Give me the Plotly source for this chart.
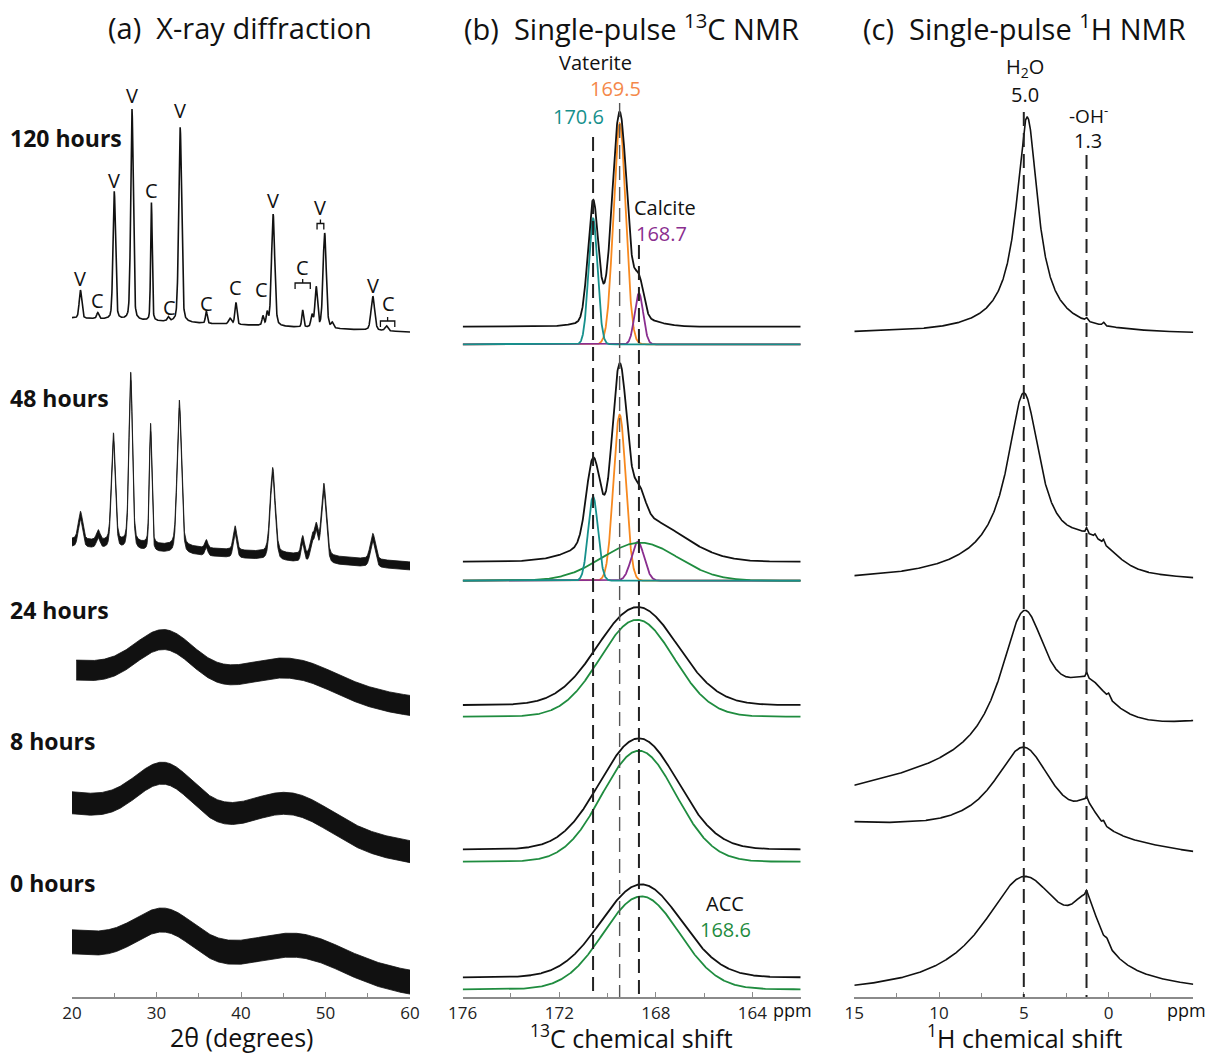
import numpy as np
import plotly.graph_objects as go

# ======================= DATA =======================
times = ["120 hours", "48 hours", "24 hours", "8 hours", "0 hours"]

# ---- (a) X-ray diffraction: reflections (2θ deg, intensity, FWHM deg) ----
xrd120_pos = [21.0, 23.05, 25.0, 27.1, 29.4, 31.4, 32.8, 35.9, 38.7, 39.4, 42.6, 43.1, 43.8,
              47.3, 48.4, 48.9, 49.9, 50.8, 55.6, 57.2]
xrd120_int = [28, 6, 128, 211, 118, 4, 195, 12, 6, 22, 9, 12, 112, 17, 12, 40, 95, 5, 34, 5]
xrd120_fwhm = [0.35, 0.3, 0.35, 0.35, 0.22, 0.3, 0.4, 0.25, 0.4, 0.3, 0.25, 0.25, 0.45,
               0.25, 0.3, 0.35, 0.45, 0.3, 0.5, 0.4]
xrd120_drift = [0, 14]

xrd48_pos = [21.0, 23.1, 24.9, 26.95, 29.3, 32.7, 35.9, 39.3, 43.75, 47.3, 48.4, 48.9, 49.8, 55.6]
xrd48_int = [28, 10, 108, 170, 120, 146, 8, 24, 85, 18, 18, 28, 72, 26]
xrd48_fwhm = [0.6, 0.5, 0.55, 0.5, 0.35, 0.6, 0.4, 0.5, 0.7, 0.45, 0.5, 0.5, 0.7, 0.7]
xrd48_drift = [0, 23]

# amorphous halos (centre, intensity, FWHM)
xrd24_pos, xrd24_int, xrd24_fwhm, xrd24_drift = [31.0, 46.0], [40, 25], [8, 12], [0, 36]
xrd8_pos, xrd8_int, xrd8_fwhm, xrd8_drift = [31.0, 46.0], [43, 31], [8, 11], [0, 49]
xrd0_pos, xrd0_int, xrd0_fwhm, xrd0_drift = [31.0, 47.0], [33, 24], [8, 12], [0, 41]

# phase labels (2θ, letter)
xrd_tags = [(21.0, "V"), (23.05, "C"), (25.0, "V"), (27.1, "V"), (29.4, "C"), (31.5, "C"),
            (32.8, "V"), (35.9, "C"), (39.4, "C"), (42.4, "C"), (43.8, "V"), (47.3, "C"),
            (49.4, "V"), (55.6, "V"), (57.4, "C")]
xrd_brackets = [(46.4, 48.2), (49.0, 49.8), (56.5, 58.2)]

# ---- (b) 13C NMR: fitted components (ppm, intensity, FWHM ppm) ----
c120_fit_pos = [170.6, 169.5, 168.7]
c120_fit_int = [126, 221, 51]
c120_fit_fwhm = [0.44, 0.6, 0.42]
c120_exp_pos = [170.6, 169.5, 168.7, 169.5]
c120_exp_int = [118, 200, 36, 15]
c120_exp_fwhm = [0.5, 0.7, 0.45, 2.5]

c48_fit_pos = [170.6, 169.5, 168.75, 168.65]
c48_fit_int = [84, 166, 39, 38]
c48_fit_fwhm = [0.48, 0.6, 0.62, 3.7]
c48_exp_pos = [170.6, 169.5, 168.7, 168.7]
c48_exp_int = [80, 158, 28, 45]
c48_exp_fwhm = [0.65, 0.7, 0.6, 4.0]

c24_fit = (168.78, 97, 3.6)
c24_exp = (168.75, 98, 3.9)
c8_fit = (168.7, 111, 3.6)
c8_exp = (168.7, 111, 3.8)
c0_fit = (168.6, 93, 3.7)
c0_exp = (168.6, 93, 3.9)

c13_lines = [170.6, 169.5, 168.7]

# ---- (c) 1H NMR components (ppm, intensity, FWHM, lineshape) ----
h120 = dict(pos=[4.8, 5.0, 1.3, 0.3], inten=[205, 12, 3, 3], fwhm=[1.5, 6, 0.15, 0.15],
            shape=["L", "L", "G", "G"], drift=[0, 1])
h48 = dict(pos=[5.0, 5.0, 1.0, 1.3, 0.8, 0.3], inten=[165, 25, 22, 5, 3, 4],
           fwhm=[2.3, 9, 3, 0.12, 0.12, 0.12], shape=["L", "L", "G", "G", "G", "G"], drift=[0, 2])
h24 = dict(pos=[5.0, 1.2, 1.3, 0.0], inten=[140, 46, 5, 4], fwhm=[3.4, 3.6, 0.12, 0.15],
           shape=["L", "L", "G", "G"], drift=[0, -62])
h8 = dict(pos=[5.0, 1.3, 1.3, 0.3], inten=[93, 22, 4, 3], fwhm=[4.4, 1.5, 0.12, 0.12],
          shape=["L", "L", "G", "G"], drift=[0, 30])
h0 = dict(pos=[5.0, 1.3, 1.3, 0.1], inten=[115, 53, 6, 4], fwhm=[6.0, 2.0, 0.15, 0.2],
          shape=["L", "L", "G", "G"], drift=[0, 0])
h1_lines = [5.0, 1.3]

# ======================= LAYOUT CONSTANTS =======================
W, H = 1212, 1054
AXIS_PX = 997
FONT = "Open Sans"
BLACK = "#111111"
TEAL = "#16908c"
ORANGE = "#f7891f"
ORANGE_T = "#f4884a"
PURPLE = "#8a2e8f"
GREEN = "#1f8c3f"

xrd_offsets = [318, 543, 670, 803, 942]      # left baseline (px from top)
xrd_halfband = [0, 4, 10, 11, 12]
c13_fit_base = [344.3, 580.7, 716.7, 861.7, 989.3]
c13_exp_base = [326.7, 561.7, 705, 849.3, 977.3]
h1_base = [333.5, 582, 790, 826, 995]
xrd_tag_px = [278, 300, 180, 95, 190, 307, 110, 303, 287, 289, 200, 267, 207, 285, 303]
xrd_bracket_px = [283, 223.5, 321]


def gauss(x, p, h, w):
    s = w / 2.3548
    return h * np.exp(-0.5 * ((x - p) / s) ** 2)


def lor(x, p, h, w):
    return h / (1 + ((x - p) / (w / 2)) ** 2)


def pv(x, p, h, w, eta=0.3):
    return eta * lor(x, p, h, w) + (1 - eta) * gauss(x, p, h, w)


fig = go.Figure()

# ---------------- (a) XRD ----------------
tt = np.linspace(20, 60, 2001)
xrd_sets = [
    (xrd120_pos, xrd120_int, xrd120_fwhm, xrd120_drift, "pv"),
    (xrd48_pos, xrd48_int, xrd48_fwhm, xrd48_drift, "pv"),
    (xrd24_pos, xrd24_int, xrd24_fwhm, xrd24_drift, "g"),
    (xrd8_pos, xrd8_int, xrd8_fwhm, xrd8_drift, "g"),
    (xrd0_pos, xrd0_int, xrd0_fwhm, xrd0_drift, "g"),
]
for k, (pos, inten, fw, drift, kind) in enumerate(xrd_sets):
    xs = tt if k != 2 else tt[tt >= 20.5]
    sig = np.zeros_like(xs)
    for p, h, w in zip(pos, inten, fw):
        sig += pv(xs, p, h, w) if kind == "pv" else gauss(xs, p, h, w)
    base = xrd_offsets[k] + np.interp(xs, [20, 60], drift)
    y = base - sig
    hb = xrd_halfband[k]
    if hb == 0:
        fig.add_trace(go.Scatter(x=xs, y=y, mode="lines", line=dict(color=BLACK, width=1.6),
                                 xaxis="x", yaxis="y", hoverinfo="skip"))
    else:
        fig.add_trace(go.Scatter(x=xs, y=y - hb, mode="lines", line=dict(color=BLACK, width=0.8),
                                 xaxis="x", yaxis="y", hoverinfo="skip"))
        fig.add_trace(go.Scatter(x=xs, y=y + hb, mode="lines", line=dict(color=BLACK, width=0.8),
                                 fill="tonexty", fillcolor=BLACK, xaxis="x", yaxis="y", hoverinfo="skip"))

for (p, t), ypx in zip(xrd_tags, xrd_tag_px):
    fig.add_annotation(x=p, y=ypx, xref="x", yref="y", text=t, showarrow=False,
                       font=dict(family=FONT, size=20, color=BLACK))
for (lo, hi), ypx in zip(xrd_brackets, xrd_bracket_px):
    mid = (lo + hi) / 2
    fig.add_trace(go.Scatter(x=[lo, lo, hi, hi, None, mid, mid], y=[ypx + 6, ypx, ypx, ypx + 6, None, ypx, ypx - 4],
                             mode="lines", line=dict(color=BLACK, width=1.3), xaxis="x", yaxis="y",
                             hoverinfo="skip"))

# ---------------- (b) 13C NMR ----------------
cc = np.linspace(176, 162, 1401)
for k in range(5):
    fb, eb = c13_fit_base[k], c13_exp_base[k]
    if k == 0:
        exp_sig = sum(gauss(cc, p, h, w) for p, h, w in zip(c120_exp_pos, c120_exp_int, c120_exp_fwhm))
        comps = list(zip(c120_fit_pos, c120_fit_int, c120_fit_fwhm))
        cols = [TEAL, ORANGE, PURPLE]
    elif k == 1:
        exp_sig = sum(gauss(cc, p, h, w) for p, h, w in zip(c48_exp_pos, c48_exp_int, c48_exp_fwhm))
        comps = list(zip(c48_fit_pos, c48_fit_int, c48_fit_fwhm))
        cols = [TEAL, ORANGE, PURPLE, GREEN]
    else:
        fit = [c24_fit, c8_fit, c0_fit][k - 2]
        ex = [c24_exp, c8_exp, c0_exp][k - 2]
        exp_sig = gauss(cc, *ex)
        comps = [fit]
        cols = [GREEN]
    order = list(range(len(comps)))
    if k <= 1:
        order = [i for i in order if cols[i] != TEAL] + [i for i in order if cols[i] == TEAL]
    for i in order:
        p, h, w = comps[i]
        fig.add_trace(go.Scatter(x=cc, y=fb - gauss(cc, p, h, w), mode="lines",
                                 line=dict(color=cols[i], width=1.8), xaxis="x2", yaxis="y2",
                                 hoverinfo="skip"))
    fig.add_trace(go.Scatter(x=cc, y=eb - exp_sig, mode="lines", line=dict(color=BLACK, width=1.8),
                             xaxis="x2", yaxis="y2", hoverinfo="skip"))

c13_tops = [137, 103, 245]
for xv, top, wd, col in zip(c13_lines, c13_tops, [2, 1.4, 2], ["#222222", "#555555", "#222222"]):
    fig.add_shape(type="line", x0=xv, x1=xv, y0=top, y1=AXIS_PX, xref="x2", yref="y2",
                  line=dict(color=col, width=wd, dash="14px,7px"))

# ---------------- (c) 1H NMR ----------------
hh = np.linspace(15, -5, 1401)
for k, d in enumerate([h120, h48, h24, h8, h0]):
    sig = np.zeros_like(hh)
    for p, h, w, s in zip(d["pos"], d["inten"], d["fwhm"], d["shape"]):
        sig += lor(hh, p, h, w) if s == "L" else gauss(hh, p, h, w)
    base = h1_base[k] + np.interp(hh, [-5, 15], d["drift"][::-1])
    fig.add_trace(go.Scatter(x=hh, y=base - sig, mode="lines", line=dict(color=BLACK, width=1.6),
                             xaxis="x3", yaxis="y3", hoverinfo="skip"))

h1_tops = [112, 155]
for xv, top in zip(h1_lines, h1_tops):
    fig.add_shape(type="line", x0=xv, x1=xv, y0=top, y1=AXIS_PX, xref="x3", yref="y3",
                  line=dict(color="#222222", width=2, dash="14px,7px"))

# ---------------- annotations (paper px) ----------------
def ann(xpx, ypx, text, size=18, color=BLACK, xanchor="center"):
    fig.add_annotation(x=xpx / W, y=1 - ypx / H, xref="paper", yref="paper", text=text,
                       showarrow=False, xanchor=xanchor, yanchor="middle",
                       font=dict(family=FONT, size=size, color=color))

ann(240, 27, "(a)\u00a0\u00a0X-ray diffraction", 29)
ann(631, 27, "(b)\u00a0\u00a0Single-pulse <sup>13</sup>C NMR", 29)
ann(1024, 27, "(c)\u00a0\u00a0Single-pulse <sup>1</sup>H NMR", 29)
ann(241, 1037, "2θ (degrees)", 25)
ann(631, 1036, "<sup>13</sup>C chemical shift", 25)
ann(1024, 1036, "<sup>1</sup>H chemical shift", 25)

for t, ypx in zip(times, [138, 398, 610, 741, 883]):
    ann(8, ypx, "<b>" + t + "</b>", 23, xanchor="left")

ann(595, 62, "Vaterite", 20)
ann(615, 88, "169.5", 20, ORANGE_T)
ann(578, 117, "170.6", 20, TEAL)
ann(665, 207, "Calcite", 20)
ann(661, 233, "168.7", 20, PURPLE)
ann(725, 903, "ACC", 20)
ann(725, 929, "168.6", 20, GREEN)

ann(1025, 67, "H<sub>2</sub>O", 20)
ann(1025, 94, "5.0", 20)
ann(1088, 115, "-OH<sup>-</sup>", 19)
ann(1088, 140, "1.3", 20)

ann(792, 1010, "ppm", 18)
ann(1186, 1010, "ppm", 18)

# ---------------- axes ----------------
ydom = [(H - AXIS_PX) / H, 1]
common_x = dict(showline=True, linecolor="#8a8a8a", linewidth=1.5, ticks="inside", ticklen=5,
                tickcolor="#8a8a8a", tickwidth=1.2, showgrid=False, zeroline=False, automargin=False,
                tickfont=dict(family=FONT, size=17, color="#222222"), fixedrange=True)
common_y = dict(visible=False, range=[AXIS_PX, 0], domain=ydom, fixedrange=True, automargin=False)

fig.update_layout(
    template="none",
    width=W, height=H, margin=dict(l=0, r=0, t=0, b=0, pad=0, autoexpand=False),
    paper_bgcolor="white", plot_bgcolor="white", showlegend=False,
    xaxis=dict(domain=[72 / W, 410 / W], range=[20, 60], tickvals=[20, 30, 40, 50, 60],
               minor=dict(dtick=5, ticks="inside", ticklen=4, tickcolor="#8a8a8a"), anchor="y", **common_x),
    xaxis2=dict(domain=[462.7 / W, 800.7 / W], range=[176, 162], tickvals=[176, 172, 168, 164],
                minor=dict(tickvals=[176, 174, 172, 170, 168, 166, 164, 162], ticks="inside", ticklen=4,
                           tickcolor="#8a8a8a"), anchor="y2", **common_x),
    xaxis3=dict(domain=[854.3 / W, 1193.3 / W], range=[15, -5], tickvals=[15, 10, 5, 0],
                minor=dict(tickvals=[15, 12.5, 10, 7.5, 5, 2.5, 0, -2.5, -5], ticks="inside", ticklen=4,
                           tickcolor="#8a8a8a"), anchor="y3", **common_x),
    yaxis=dict(anchor="x", **common_y),
    yaxis2=dict(anchor="x2", **common_y),
    yaxis3=dict(anchor="x3", **common_y),
)

fig.write_html("out.html")
